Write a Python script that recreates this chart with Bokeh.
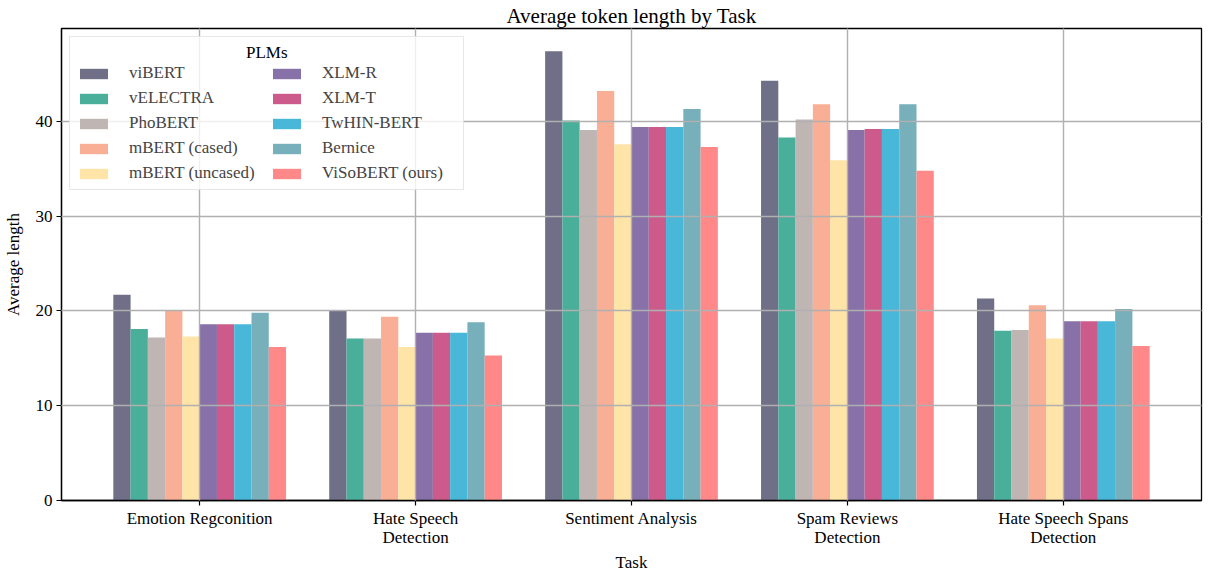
from bokeh.plotting import figure
from bokeh.models import FixedTicker, Range1d, Legend, LegendItem, Title
from bokeh.embed import file_html
from bokeh.resources import INLINE

tasks = ["Emotion Regconition", "Hate Speech\nDetection", "Sentiment Analysis",
         "Spam Reviews\nDetection", "Hate Speech Spans\nDetection"]
models = ["viBERT", "vELECTRA", "PhoBERT", "mBERT (cased)", "mBERT (uncased)",
          "XLM-R", "XLM-T", "TwHIN-BERT", "Bernice", "ViSoBERT (ours)"]
colors = ["#6F6F88", "#4AAF9A", "#BFB6B4", "#F9AF95", "#FFE4A8",
          "#8771A8", "#CC5B8C", "#48B7D8", "#77AFBA", "#FF8888"]
legend_title = "PLMs"

viBERT = [21.7, 20.1, 47.4, 44.3, 21.3]
vELECTRA = [18.1, 17.1, 40.1, 38.3, 17.9]
PhoBERT = [17.2, 17.1, 39.1, 40.2, 18.0]
mBERT_cased = [20.0, 19.4, 43.2, 41.8, 20.6]
mBERT_uncased = [17.3, 16.2, 37.6, 35.9, 17.1]
XLM_R = [18.6, 17.7, 39.4, 39.1, 18.9]
XLM_T = [18.6, 17.7, 39.4, 39.2, 18.9]
TwHIN_BERT = [18.6, 17.7, 39.4, 39.2, 18.9]
Bernice = [19.8, 18.8, 41.3, 41.8, 20.2]
ViSoBERT = [16.2, 15.3, 37.3, 34.8, 16.3]

series = [viBERT, vELECTRA, PhoBERT, mBERT_cased, mBERT_uncased,
          XLM_R, XLM_T, TwHIN_BERT, Bernice, ViSoBERT]

FONT = "Liberation Serif"
bar_w = 0.08

p = figure(width=1203, height=571, output_backend="svg", toolbar_location=None,
           x_range=Range1d(-0.64, 4.64), y_range=Range1d(0, 49.8),
           title="Average token length by Task",
           min_border_left=50, min_border_right=2, min_border_top=0, min_border_bottom=0)

items = []
for i, (name, vals, col) in enumerate(zip(models, series, colors)):
    xs = [k + (i - 4.5) * bar_w for k in range(len(tasks))]
    r = p.vbar(x=xs, top=vals, width=bar_w, fill_color=col, line_color=None)
    items.append(LegendItem(label=name, renderers=[r]))

p.title.align = "center"
p.title.text_font = FONT
p.title.text_font_size = "21px"
p.title.text_font_style = "normal"
p.title.text_color = "black"
p.title.standoff = 2
p.title.text_line_height = 1.0

xtitle = Title(text="Task", align="center", text_font=FONT, text_font_size="17px",
               text_font_style="normal", text_color="black", standoff=0,
               text_line_height=1.0)
p.add_layout(xtitle, "below")

p.outline_line_color = "black"
p.outline_line_width = 1.3
p.outline_line_alpha = 1.0

p.xaxis.ticker = FixedTicker(ticks=list(range(len(tasks))))
p.xaxis.major_label_overrides = {i: t for i, t in enumerate(tasks)}
p.yaxis.ticker = FixedTicker(ticks=[0, 10, 20, 30, 40])
for ax in (p.xaxis, p.yaxis):
    ax.major_label_text_font = FONT
    ax.major_label_text_font_size = "17px"
    ax.major_label_text_color = "black"
    ax.axis_label_text_font = FONT
    ax.axis_label_text_font_size = "17px"
    ax.axis_label_text_font_style = "normal"
    ax.axis_label_text_color = "black"
    ax.minor_tick_line_color = None
    ax.major_tick_out = 5
    ax.major_tick_in = 0
    ax.axis_line_color = "black"
    ax.axis_line_width = 1.3
    ax.major_tick_line_color = "black"
    ax.major_tick_line_width = 1.2
p.xaxis.major_label_text_line_height = 1.05
p.yaxis.axis_label = "Average length"
p.yaxis.axis_label_standoff = 10
p.xaxis.major_label_standoff = 3
p.yaxis.major_label_standoff = 4

for g in (p.xgrid, p.ygrid):
    g.grid_line_color = "#b0b0b0"
    g.grid_line_width = 1.4
    g.level = "guide"

legend = Legend(items=items, ncols=2, location="top_left",
                title="\u00a0" * 40 + legend_title, title_text_font=FONT,
                title_text_font_size="17px", title_text_font_style="normal",
                title_text_color="black", title_standoff=0,
                label_text_font=FONT, label_text_font_size="17px",
                glyph_width=35, glyph_height=13, label_standoff=18,
                label_height=20, label_width=135, spacing=5,
                padding=6, margin=8,
                border_line_color="#d0d0d0", border_line_width=1.2,
                background_fill_alpha=0.8)
p.add_layout(legend)

open("out.html", "w").write(file_html(p, INLINE))
